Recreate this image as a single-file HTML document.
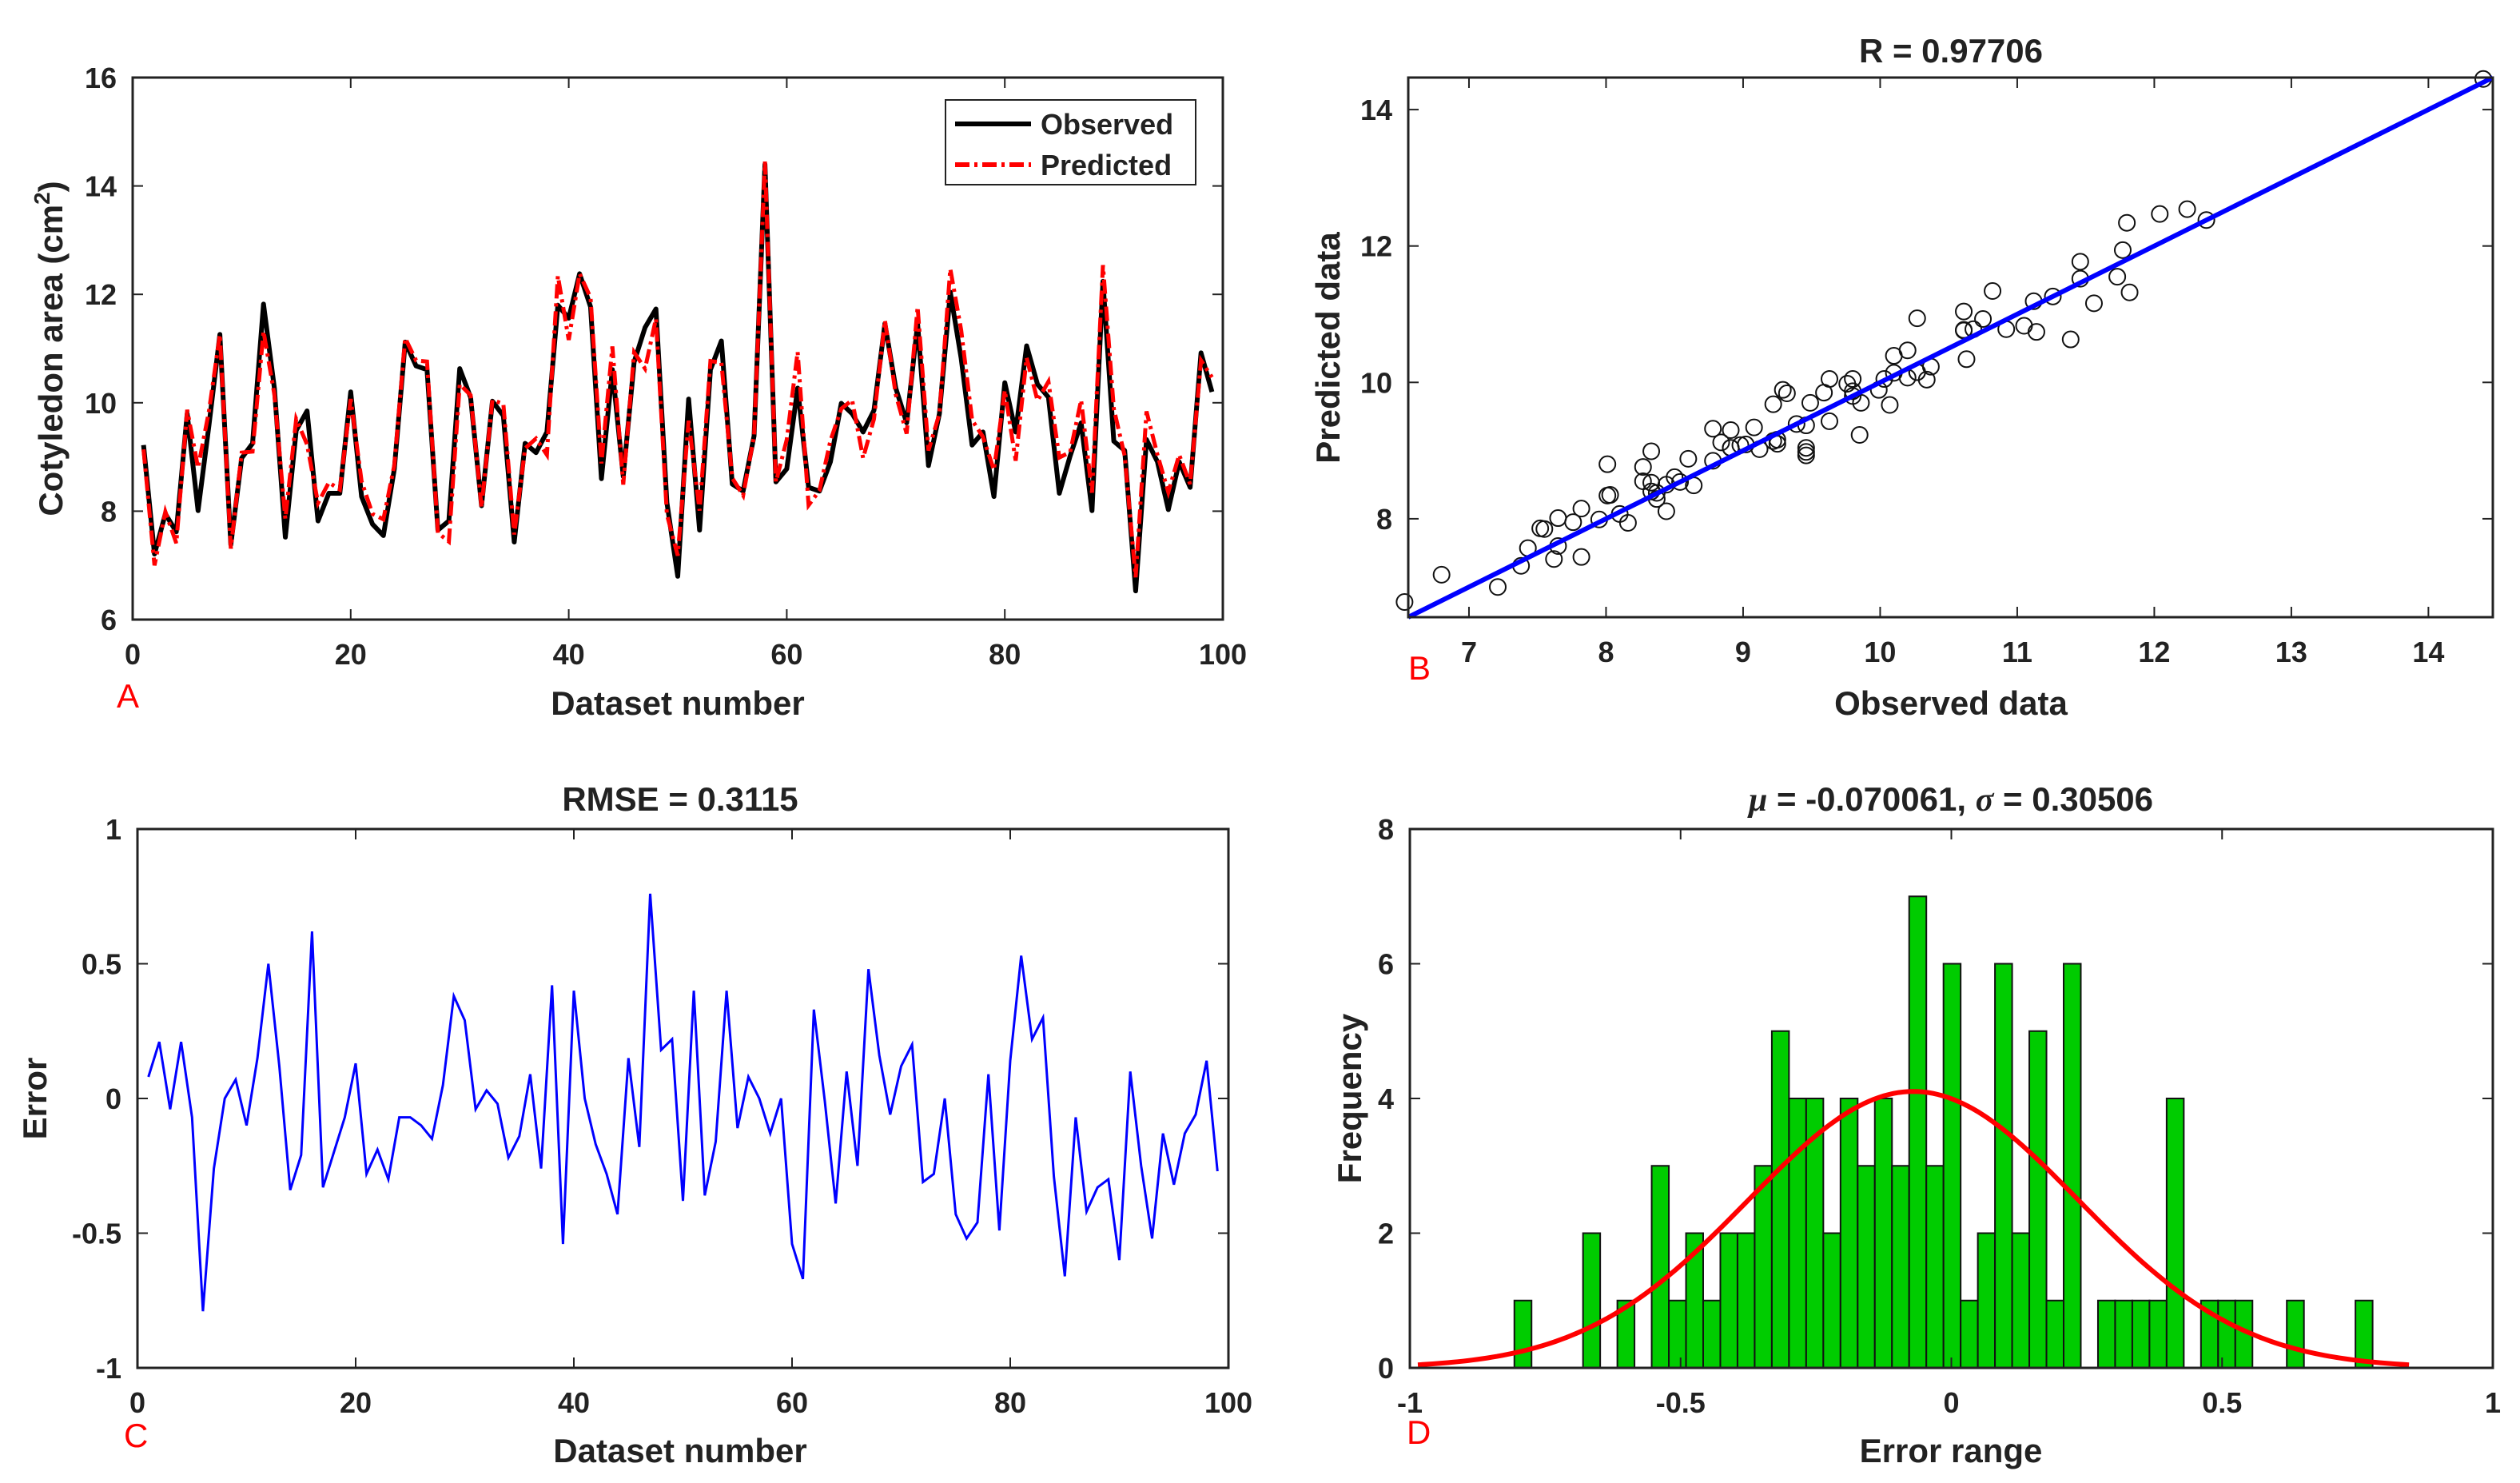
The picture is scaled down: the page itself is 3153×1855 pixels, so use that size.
<!DOCTYPE html>
<html><head><meta charset="utf-8"><style>
html,body{margin:0;padding:0;background:#fff}
svg{display:block;font-family:"Liberation Sans",Arial,sans-serif}
.tk{font-size:36px;font-weight:bold;fill:#222}
.lb{font-size:42px;font-weight:bold;fill:#222}
.pl{font-size:42px;fill:#ff0000}
</style></head><body>
<svg id="fig" width="3153" height="1855" viewBox="0 0 3153 1855" xmlns="http://www.w3.org/2000/svg">
<rect width="3153" height="1855" fill="#fff"/>
<g id="pA"></g>
<g id="pB"></g>
<g id="pC"></g>
<g id="pD"></g>
<text class="lb" x="848" y="894" text-anchor="middle">Dataset number</text>
<text class="lb" x="78" y="436" text-anchor="middle" transform="rotate(-90 78 436)">Cotyledon area (cm<tspan font-size="28" dy="-16">2</tspan><tspan dy="16">)</tspan></text>
<text class="pl" x="146" y="885">A</text>
<text class="lb" x="2441" y="78" text-anchor="middle">R = 0.97706</text>
<text class="lb" x="2441" y="894" text-anchor="middle">Observed data</text>
<text class="lb" x="1676" y="435" text-anchor="middle" transform="rotate(-90 1676 435)">Predicted data</text>
<text class="pl" x="1762" y="850">B</text>
<text class="lb" x="851" y="1014" text-anchor="middle">RMSE = 0.3115</text>
<text class="lb" x="851" y="1829" text-anchor="middle">Dataset number</text>
<text class="lb" x="58" y="1374" text-anchor="middle" transform="rotate(-90 58 1374)">Error</text>
<text class="pl" x="155" y="1810">C</text>
<text class="lb" x="2441" y="1014" text-anchor="middle"><tspan font-style="italic" font-family="Liberation Serif">μ</tspan> = -0.070061, <tspan font-style="italic" font-family="Liberation Serif">σ</tspan> = 0.30506</text>
<text class="lb" x="2441" y="1829" text-anchor="middle">Error range</text>
<text class="lb" x="1703" y="1374" text-anchor="middle" transform="rotate(-90 1703 1374)">Frequency</text>
<text class="pl" x="1760" y="1806">D</text>
<g>
<rect x="1183" y="125" width="313" height="106" fill="#fff" stroke="#222" stroke-width="2"/>
<line x1="1195" y1="155" x2="1290" y2="155" stroke="#000" stroke-width="6"/>
<line x1="1195" y1="206" x2="1290" y2="206" stroke="#ff0000" stroke-width="6" stroke-dasharray="18,6,4,6"/>
<text class="tk" x="1302" y="168">Observed</text>
<text class="tk" x="1302" y="219">Predicted</text>
</g>
</svg>
<script>
const observed=[9.22,7.21,7.95,7.62,9.80,8.01,9.59,11.26,7.38,8.98,9.25,11.82,10.27,7.52,9.49,9.85,7.82,8.33,8.33,10.2,8.27,7.76,7.55,8.78,11.12,10.68,10.61,7.65,7.82,10.63,10.1,8.1,10.03,9.76,7.43,9.25,9.08,9.46,11.80,11.56,12.38,11.77,8.6,10.61,8.64,10.75,11.39,11.73,8.16,6.80,10.07,7.65,10.61,11.14,8.50,8.37,9.39,14.4,8.54,8.78,10.27,8.44,8.37,8.91,9.99,9.80,9.46,9.86,11.46,10.27,9.63,11.46,8.84,9.80,12.04,10.82,9.22,9.46,8.27,10.37,9.46,11.05,10.34,10.10,8.33,9.02,9.63,8.01,12.24,9.29,9.12,6.53,9.32,8.91,8.03,8.91,8.44,10.92,10.20];
const predicted=[9.14,7.00,7.99,7.41,9.87,8.80,9.85,11.26,7.31,9.08,9.10,11.32,10.15,7.86,9.70,9.23,8.15,8.53,8.40,10.07,8.55,7.95,7.85,8.85,11.19,10.78,10.76,7.60,7.44,10.34,10.14,8.07,10.05,9.98,7.57,9.16,9.34,9.04,12.34,11.16,12.38,11.94,8.88,11.04,8.49,10.93,10.63,11.55,7.94,7.18,9.67,8.01,10.77,10.74,8.61,8.29,9.39,14.45,8.54,9.32,10.94,8.11,8.38,9.30,9.89,10.05,8.98,9.70,11.52,10.15,9.43,11.77,9.12,9.80,12.47,11.34,9.68,9.37,8.76,10.23,8.93,10.83,10.04,10.39,8.99,9.09,10.05,8.34,12.54,9.89,9.02,6.78,9.84,9.04,8.35,9.04,8.50,10.78,10.47];
const errors=[0.08,0.21,-0.04,0.21,-0.07,-0.79,-0.26,0.0,0.07,-0.10,0.15,0.50,0.12,-0.34,-0.21,0.62,-0.33,-0.2,-0.07,0.13,-0.28,-0.19,-0.30,-0.07,-0.07,-0.10,-0.15,0.05,0.38,0.29,-0.04,0.03,-0.02,-0.22,-0.14,0.09,-0.26,0.42,-0.54,0.40,0.0,-0.17,-0.28,-0.43,0.15,-0.18,0.76,0.18,0.22,-0.38,0.40,-0.36,-0.16,0.40,-0.11,0.08,0.0,-0.13,0.0,-0.54,-0.67,0.33,-0.01,-0.39,0.10,-0.25,0.48,0.16,-0.06,0.12,0.20,-0.31,-0.28,0.0,-0.43,-0.52,-0.46,0.09,-0.49,0.14,0.53,0.22,0.30,-0.29,-0.66,-0.07,-0.42,-0.33,-0.30,-0.60,0.10,-0.25,-0.52,-0.13,-0.32,-0.13,-0.06,0.14,-0.27];
const histCounts=[1,0,0,0,2,0,1,0,3,1,2,1,2,2,3,5,4,4,2,4,3,4,3,7,3,6,1,2,6,2,5,1,6,0,1,1,1,1,4,0,1,1,1,0,0,1,0,0,0,1];
const histStart=[-0.807];
const histBinWidth=[0.0317];
const fitParams=[1.0,0.0];
const gaussParams=[-0.070061,0.30506];
const ticksA_x=[0,20,40,60,80,100];
const ticksA_y=[6,8,10,12,14,16];
const ticksB_x=[7,8,9,10,11,12,13,14];
const ticksB_y=[8,10,12,14];
const ticksC_x=[0,20,40,60,80,100];
const ticksC_y=[-1,-0.5,0,0.5,1];
const ticksD_x=[-1,-0.5,0,0.5,1];
const ticksD_y=[0,2,4,6,8];

const NS="http://www.w3.org/2000/svg";
function mk(tag,attrs,parent){const e=document.createElementNS(NS,tag);for(const k in attrs)e.setAttribute(k,attrs[k]);parent.appendChild(e);return e;}
function scale(d0,d1,r0,r1){return v=>r0+(v-d0)/(d1-d0)*(r1-r0);}
function axes(g,P,xs,ys,xt,yt,name){
  const tl=13;
  for(const t of xt){const X=xs(t);
    const a=mk('line',{x1:X,y1:P.B,x2:X,y2:P.B-tl,stroke:'#222','stroke-width':2},g);
    
    
    const b=mk('line',{x1:X,y1:P.T,x2:X,y2:P.T+tl,stroke:'#222','stroke-width':2},g);
    
    
    const tx=mk('text',{x:X,y:P.B+56,'text-anchor':'middle','class':'tk'},g);tx.textContent=String(t);
    
    
  }
  for(const t of yt){const Y=ys(t);
    const a=mk('line',{x1:P.L,y1:Y,x2:P.L+tl,y2:Y,stroke:'#222','stroke-width':2},g);
    
    
    const b=mk('line',{x1:P.R,y1:Y,x2:P.R-tl,y2:Y,stroke:'#222','stroke-width':2},g);
    
    
    const tx=mk('text',{x:P.L-20,y:Y+13,'text-anchor':'end','class':'tk'},g);tx.textContent=String(t);
    
    
  }
  const r=mk('rect',{x:P.L,y:P.T,width:P.R-P.L,height:P.B-P.T,fill:'none',stroke:'#222','stroke-width':3},g);
  
  
}
function poly(xs,ys,xv,yv){return xv.map((x,i)=>xs(x).toFixed(1)+','+ys(yv[i]).toFixed(1)).join(' ');}
const idx=observed.map((_,i)=>i+1);

// Panel A
{const g=document.getElementById('pA');const P={L:166,R:1530,T:97,B:775};
 const xs=scale(0,100,P.L,P.R),ys=scale(6,16,P.B,P.T);
 const o=mk('polyline',{points:poly(xs,ys,idx,observed),fill:'none',stroke:'#000','stroke-width':6,'stroke-linejoin':'round'},g);
 
 
 const p=mk('polyline',{points:poly(xs,ys,idx,predicted),fill:'none',stroke:'#ff0000','stroke-width':5,'stroke-dasharray':'18,6,4,6'},g);
 
 
 axes(g,P,xs,ys,ticksA_x,ticksA_y,'panel-a');}

// Panel B
{const g=document.getElementById('pB');const P={L:1762,R:3119,T:97,B:772};
 const lo=6.557,hi=14.47;const xs=scale(lo,hi,P.L,P.R),ys=scale(lo,hi,P.B,P.T);
 observed.forEach((v,i)=>{const c=mk('circle',{cx:xs(v),cy:ys(predicted[i]),r:10,fill:'none',stroke:'#111','stroke-width':2},g);
  
  });
 const f=x=>fitParams[0]*x+fitParams[1];
 const l=mk('line',{x1:xs(lo),y1:ys(f(lo)),x2:xs(hi),y2:ys(f(hi)),stroke:'#0000ff','stroke-width':6},g);
 
 
 axes(g,P,xs,ys,ticksB_x,ticksB_y,'panel-b');}

// Panel C
{const g=document.getElementById('pC');const P={L:172,R:1537,T:1037,B:1711};
 const xs=scale(0,100,P.L,P.R),ys=scale(-1,1,P.B,P.T);
 const e=mk('polyline',{points:poly(xs,ys,idx,errors),fill:'none',stroke:'#0000ff','stroke-width':3},g);
 
 
 axes(g,P,xs,ys,ticksC_x,ticksC_y,'panel-c');}

// Panel D
{const g=document.getElementById('pD');const P={L:1764,R:3119,T:1037,B:1711};
 const xs=scale(-1,1,P.L,P.R),ys=scale(0,8,P.B,P.T);
 histCounts.forEach((c,k)=>{if(!c)return;const x0=histStart[0]+k*histBinWidth[0];
  const r=mk('rect',{x:xs(x0),y:ys(c),width:xs(x0+histBinWidth[0])-xs(x0),height:ys(0)-ys(c),fill:'#00cc00',stroke:'#111','stroke-width':2},g);
  
  });
 const mu=gaussParams[0],sd=gaussParams[1];const N=histCounts.reduce((a,b)=>a+b,0);
 const amp=N*histBinWidth[0]/(sd*Math.sqrt(2*Math.PI));const pts=[];
 for(let i=0;i<=200;i++){const x=mu-3*sd+6*sd*i/200;pts.push(xs(x).toFixed(1)+','+ys(amp*Math.exp(-0.5*((x-mu)/sd)**2)).toFixed(1));}
 const c=mk('polyline',{points:pts.join(' '),fill:'none',stroke:'#ff0000','stroke-width':6},g);
 
 
 axes(g,P,xs,ys,ticksD_x,ticksD_y,'panel-d');}
</script>
</body></html>
